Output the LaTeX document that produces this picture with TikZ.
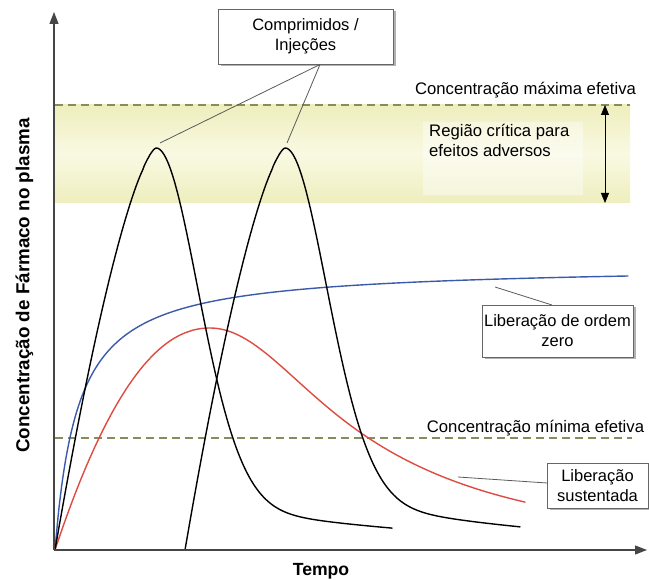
\documentclass[tikz,border=0pt]{standalone}
\usepackage{fontspec}
\setmainfont{Liberation Sans}
\usetikzlibrary{arrows.meta,shadows,calc}
\definecolor{dashcol}{RGB}{135,140,95}
\definecolor{bandyel}{RGB}{238,238,190}
\definecolor{bandlight}{RGB}{249,249,228}
\definecolor{axiscol}{RGB}{70,70,70}
\definecolor{bluec}{RGB}{60,90,170}
\definecolor{redc}{RGB}{222,75,65}
\definecolor{leadcol}{RGB}{90,90,90}
\begin{document}
\begin{tikzpicture}[x=1pt,y=-1pt,
  txt/.style={font=\fontsize{16.7}{20}\selectfont, inner sep=0pt},
  labelbox/.style={draw=gray!80!black, fill=white, line width=0.6pt, align=center,
    inner sep=1pt, font=\fontsize{16.5}{20}\selectfont,
    drop shadow={shadow xshift=2.5pt,shadow yshift=-2.5pt,fill=black,opacity=0.3}},
  limitline/.style={dashcol, line width=1.1pt, dash pattern=on 8pt off 5pt},
  curve/.style={line width=1.4pt, line join=round, line cap=round},
  leader/.style={leadcol, line width=0.8pt},
  axis/.style={axiscol, line width=1.3pt, -{Triangle[length=12pt,width=9pt]}}]
\useasboundingbox (0,0) rectangle (649,580);
% critical band
\shade[top color=bandyel, bottom color=bandyel, middle color=bandlight] (55,105) rectangle (630,203);
\fill[white, opacity=0.4] (423,122) rectangle (583,195);
\draw[limitline] (55,105) -- (630,105);
\draw[limitline] (55,438) -- (632,438);
% double arrow
\coordinate (dt) at (605,105);
\coordinate (db) at (605,203);
\draw[black, line width=0.8pt, {Triangle[length=10pt,width=8pt]}-{Triangle[length=10pt,width=8pt]}] (dt) -- (db);
% curves
\draw[curve, bluec] plot[domain=0:573, samples=160, smooth] ({55+\x},{550-285*(\x/(23+\x))});
\draw[curve, redc] plot[domain=155:0.02, samples=70, smooth] ({210-\x},{328+222*(\x/155)^2.1})
  -- plot[domain=0:315, samples=120, smooth] ({210+\x},{550-222*(0.907/(1+(\x/176)^2)+0.093*exp(0-(\x/88)^2))});
\draw[curve, black] plot[domain=101:0.02, samples=70, smooth] ({156-\x},{148+402*(\x/101)^1.45})
  -- plot[domain=0:236, samples=120, smooth] ({156+\x},{550-402*(exp(0-(\x/62)^2)+0.14*exp(0-\x/250)*(1-exp(0-(\x/62)^2))^2)});
\draw[curve, black] plot[domain=100:0.02, samples=70, smooth] ({285-\x},{148+402*(\x/100)^1.45})
  -- plot[domain=0:235, samples=120, smooth] ({285+\x},{550-402*(exp(0-(\x/62)^2)+0.16*exp(0-\x/230)*(1-exp(0-(\x/62)^2))^2)});
% axes
\coordinate (O) at (54,550);
\coordinate (ytop) at (54,12);
\coordinate (xend) at (647,550);
\draw[axis] (O) -- (ytop);
\draw[axis] (O) -- (xend);
% boxes
\node[labelbox, minimum width=175pt, minimum height=55pt] (box1) at (305.5,36.5) {Comprimidos /\\Injeções};
\node[labelbox, minimum width=151pt, minimum height=52pt] (box2) at (557.5,331) {Liberação de ordem\\zero};
\node[labelbox, minimum width=101pt, minimum height=45pt] (box3) at (597.5,485.5) {Liberação\\sustentada};
% leaders
\coordinate (b1) at (320,64.5);
\coordinate (pk1) at (160,143);
\coordinate (pk2) at (287,143);
\coordinate (b2) at (552,305);
\coordinate (bl) at (495,287);
\coordinate (b3) at (547,483);
\coordinate (rl) at (458,477);
\draw[leader] (b1) -- (pk1);
\draw[leader] (b1) -- (pk2);
\draw[leader] (b2) -- (bl);
\draw[leader] (b3) -- (rl);
% texts
\node[txt, anchor=base] (tmax) at (525.5,95) {Concentração máxima efetiva};
\node[txt, anchor=base west, align=left] (tcrit) at (429,157) {Região crítica para\\efeitos adversos};
\node[txt, anchor=base] (tmin) at (535.5,433) {Concentração mínima efetiva};
\node[inner sep=0pt, anchor=base, font=\fontsize{17.6}{20}\selectfont\bfseries] (xlab) at (321,575) {Tempo};
\node[inner sep=0pt, rotate=90, font=\fontsize{18.8}{20}\selectfont\bfseries] (ylab) at (24.5,285.5) {Concentração de Fármaco no plasma};
\end{tikzpicture}
\end{document}
